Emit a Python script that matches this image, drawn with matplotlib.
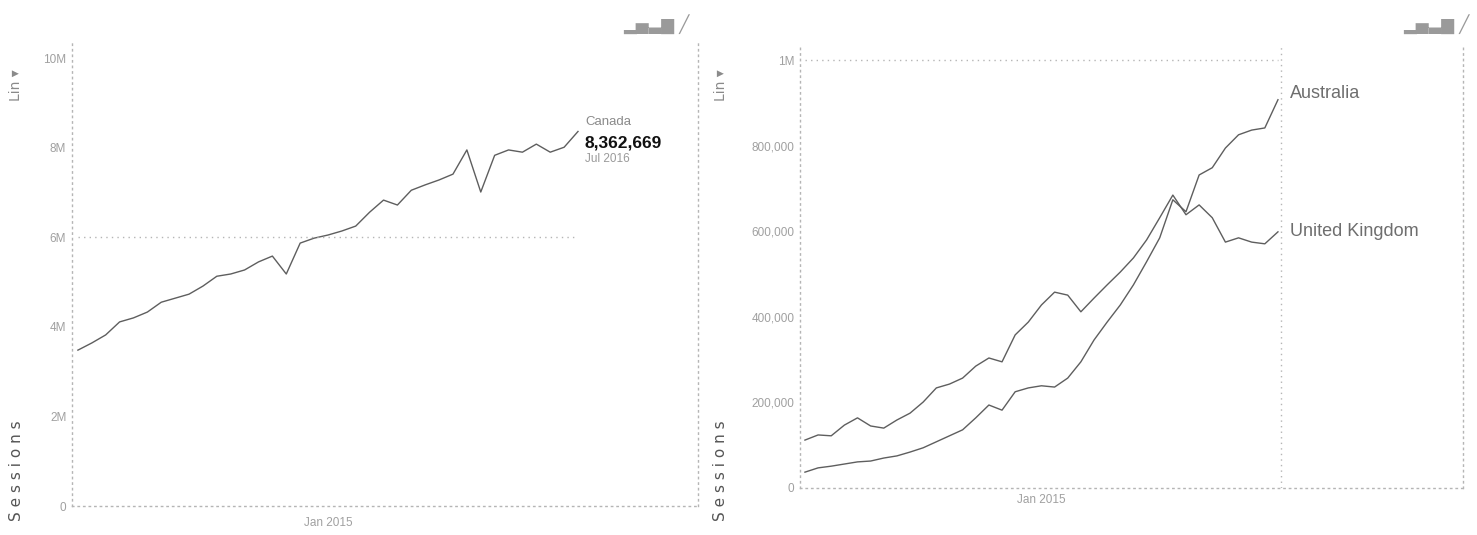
import matplotlib
matplotlib.use("Agg")
import matplotlib.pyplot as plt
import pandas as pd

# monthly sessions, Jul 2013 .. Jul 2016
months = pd.date_range("2013-07-01", "2016-07-01", freq="MS")
month_labels = [m.strftime("%b %Y") for m in months]

canada = [3.48, 3.64, 3.82, 4.11, 4.20, 4.33, 4.55, 4.64, 4.73, 4.91,
          5.13, 5.18, 5.27, 5.45, 5.58, 5.18, 5.87, 5.98, 6.05, 6.14,
          6.25, 6.56, 6.83, 6.72, 7.05, 7.17, 7.28, 7.41, 7.95, 7.01,
          7.83, 7.95, 7.90, 8.08, 7.90, 8.01, 8.362669]
canada = [v * 1e6 for v in canada]

uk = [112, 124, 122, 147, 164, 145, 140, 159, 175, 201,
      234, 243, 257, 285, 304, 295, 358, 388, 428, 458,
      451, 412, 444, 475, 505, 538, 580, 632, 685, 639,
      662, 632, 575, 585, 575, 571, 599]
australia = [37, 47, 51, 56, 61, 63, 70, 75, 84, 94,
             108, 122, 136, 164, 194, 182, 225, 234, 239, 236,
             257, 295, 346, 388, 428, 475, 529, 585, 674, 646,
             732, 749, 795, 826, 837, 842, 908]
uk = [v * 1e3 for v in uk]
australia = [v * 1e3 for v in australia]

left_ticks = [0, 2e6, 4e6, 6e6, 8e6, 10e6]
left_tick_labels = ["0", "2M", "4M", "6M", "8M", "10M"]
right_ticks = [0, 2e5, 4e5, 6e5, 8e5, 1e6]
right_tick_labels = ["0", "200,000", "400,000", "600,000", "800,000", "1M"]
x_tick = month_labels.index("Jan 2015")

NARROW = ["Liberation Sans Narrow", "Liberation Sans", "DejaVu Sans"]
DOT = (0, (1, 3))
GRID = "#b5b5b5"
LINE = "#5e5e5e"
TICK = "#a0a0a0"

fig = plt.figure(figsize=(14.77, 5.35), dpi=100)
ax1 = fig.add_axes([0.0487, 0.0542, 0.4239, 0.8673])
ax2 = fig.add_axes([0.5416, 0.0879, 0.4489, 0.8280])

xs = list(range(len(months)))
last = xs[-1]


def style(ax, ticks, labels, top):
    for side in ax.spines.values():
        side.set_linestyle(DOT)
        side.set_color(GRID)
        side.set_linewidth(1)
    ax.spines["top"].set_visible(False)
    ax.set_yticks(ticks)
    ax.set_yticklabels(labels, family=NARROW)
    ax.set_ylim(0, top)
    ax.set_xticks([x_tick])
    ax.set_xticklabels([month_labels[x_tick]], family=NARROW)
    ax.tick_params(length=0, labelsize=8.5, labelcolor=TICK, pad=4)


ax1.plot(xs, canada, color=LINE, lw=1)
ax1.hlines(6e6, 0, last, color=GRID, lw=1, linestyle=DOT)
ax1.set_xlim(-0.43, 44.64)
style(ax1, left_ticks, left_tick_labels, 10.36e6)
ax1.tick_params(axis="x", pad=8)

ax1.text(last + 0.5, canada[-1] + 0.2e6, "Canada", color="#8a8a8a",
         fontsize=9.5, family=NARROW, va="center")
ax1.text(last + 0.5, canada[-1] - 0.25e6, f"{canada[-1]:,.0f}", color="#111111",
         fontsize=12.5, fontweight="bold", family=NARROW, va="center")
ax1.text(last + 0.5, canada[-1] - 0.62e6, month_labels[-1], color="#9a9a9a",
         fontsize=8.5, family=NARROW, va="center")

ax2.plot(xs, uk, color=LINE, lw=1)
ax2.plot(xs, australia, color=LINE, lw=1)
ax2.hlines(1e6, 0, last, color=GRID, lw=1, linestyle=DOT)
ax2.axvline(last + 0.2, color=GRID, lw=1, linestyle=DOT)
ax2.set_xlim(-0.38, 50.08)
style(ax2, right_ticks, right_tick_labels, 1.036e6)

ax2.text(last + 0.9, australia[-1] + 0.015e6, "Australia", color="#6e6e6e",
         fontsize=13, family=NARROW, va="center")
ax2.text(last + 0.9, uk[-1], "United Kingdom", color="#6e6e6e",
         fontsize=13, family=NARROW, va="center")

# axis titles, scale switch and chart-type icons
for x in (0.011, 0.488):
    fig.text(x, 0.12, "S e s s i o n s", rotation=90, color="#555555",
             fontsize=11, ha="center", va="center")
    fig.text(x, 0.84, "Lin ▾", rotation=90, color="#8a8a8a",
             fontsize=10, ha="center", va="center")
for x in (0.467, 0.995):
    fig.text(x, 0.955, "▂▅▃▇ ╱", color="#9a9a9a", fontsize=12,
             ha="right", va="center")

fig.savefig("out.png", dpi=100)
